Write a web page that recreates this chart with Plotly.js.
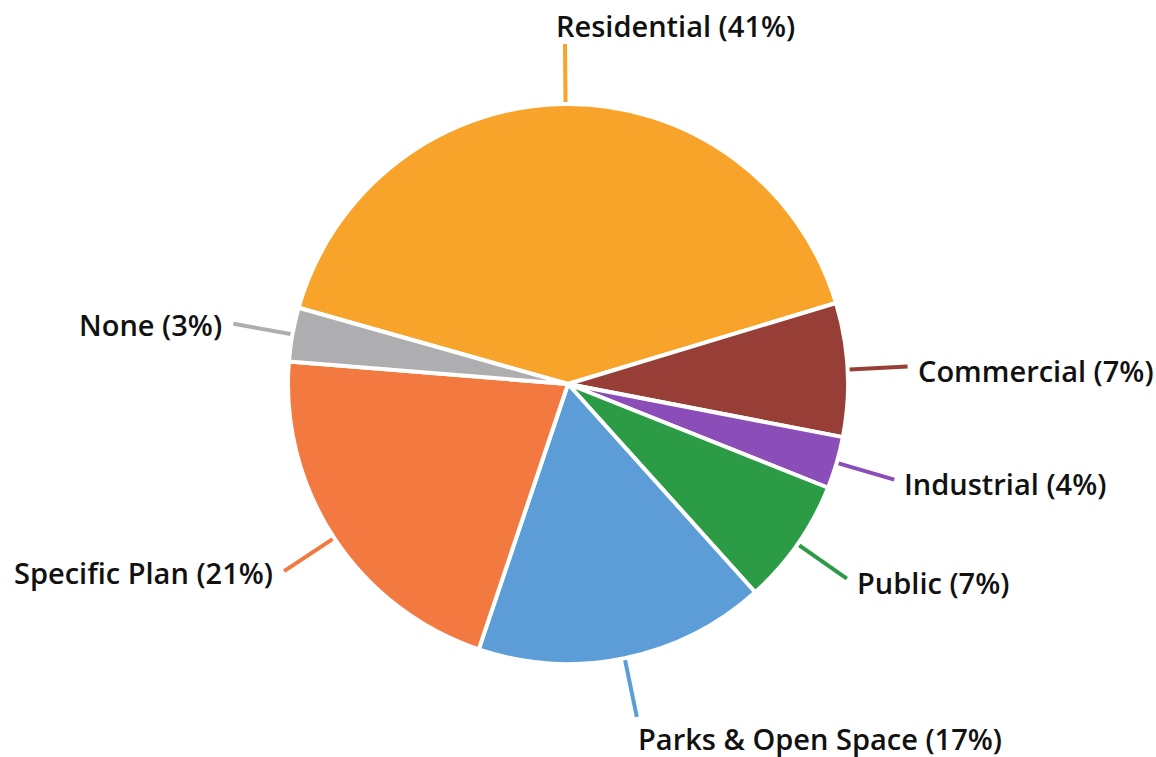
<!DOCTYPE html>
<html>
<head>
<meta charset="utf-8">
<script src="https://cdn.plot.ly/plotly-3.0.1.min.js"></script>
<style>html,body{margin:0;padding:0;background:#fff;}#chart{width:1156px;height:757px;}</style>
</head>
<body>
<div id="chart"></div>
<script>
const categories = ["Residential", "Commercial", "Industrial", "Public", "Parks & Open Space", "Specific Plan", "None"];
const values = [40.9, 7.7, 3.0, 7.3, 16.8, 21.1, 3.1];
const labelText = ["Residential (41%)", "Commercial (7%)", "Industrial (4%)", "Public (7%)", "Parks & Open Space (17%)", "Specific Plan (21%)", "None (3%)"];
const colors = ["#F8A42A", "#973F36", "#8B4DB8", "#2C9B46", "#5C9DD7", "#F27A41", "#AEAEB0"];

const W = 1156, H = 757;
const M = {l: 0, r: 20, t: 104, b: 93};
const plotW = W - M.l - M.r, plotH = H - M.t - M.b;
const cx = M.l + plotW / 2, cy = M.t + plotH / 2;
const R = Math.min(plotW, plotH) / 2;
const rotation = -74.2;

const px2x = px => (px - M.l) / plotW;
const py2y = py => 1 - (py - M.t) / plotH;

const total = values.reduce((a, b) => a + b, 0);
const shapes = [], annotations = [];
let cum = 0;
values.forEach((v, i) => {
  const midDeg = rotation + 360 * (cum + v / 2) / total;
  cum += v;
  const a = midDeg * Math.PI / 180;
  const s = Math.sin(a), c = -Math.cos(a);
  const x0 = cx + (R + 2) * s, y0 = cy + (R + 2) * c;
  const x1 = cx + (R + 60) * s, y1 = cy + (R + 60) * c;
  shapes.push({type: 'line', xref: 'paper', yref: 'paper',
    x0: px2x(x0), y0: py2y(y0), x1: px2x(x1), y1: py2y(y1),
    line: {color: colors[i], width: 4}});
  let ax, ay, xanchor, yanchor = 'middle';
  if (Math.abs(s) < 0.3) {
    xanchor = 'left';
    if (c < 0) { ax = x1 - 11; ay = y1 - 19; }
    else { ax = x1 - 1; ay = y1 + 22; }
  } else if (s > 0) {
    xanchor = 'left'; ax = x1 + 8; ay = y1 + 4;
  } else {
    xanchor = 'right'; ax = x1 - 9; ay = y1 + 1;
  }
  annotations.push({xref: 'paper', yref: 'paper', x: px2x(ax), y: py2y(ay),
    xanchor: xanchor, yanchor: yanchor, showarrow: false, text: labelText[i],
    font: {family: 'Open Sans, sans-serif', size: 29, color: '#111111', weight: 600}});
});

const data = [{
  type: 'pie',
  labels: categories,
  values: values,
  sort: false,
  direction: 'clockwise',
  rotation: rotation,
  textinfo: 'none',
  hoverinfo: 'label+percent',
  marker: {colors: colors, line: {color: '#ffffff', width: 4}},
  showlegend: false
}];

const layout = {
  width: W, height: H,
  margin: M,
  paper_bgcolor: '#ffffff',
  plot_bgcolor: '#ffffff',
  showlegend: false,
  shapes: shapes,
  annotations: annotations
};

Plotly.newPlot('chart', data, layout, {displayModeBar: false, staticPlot: true});
</script>
</body>
</html>
